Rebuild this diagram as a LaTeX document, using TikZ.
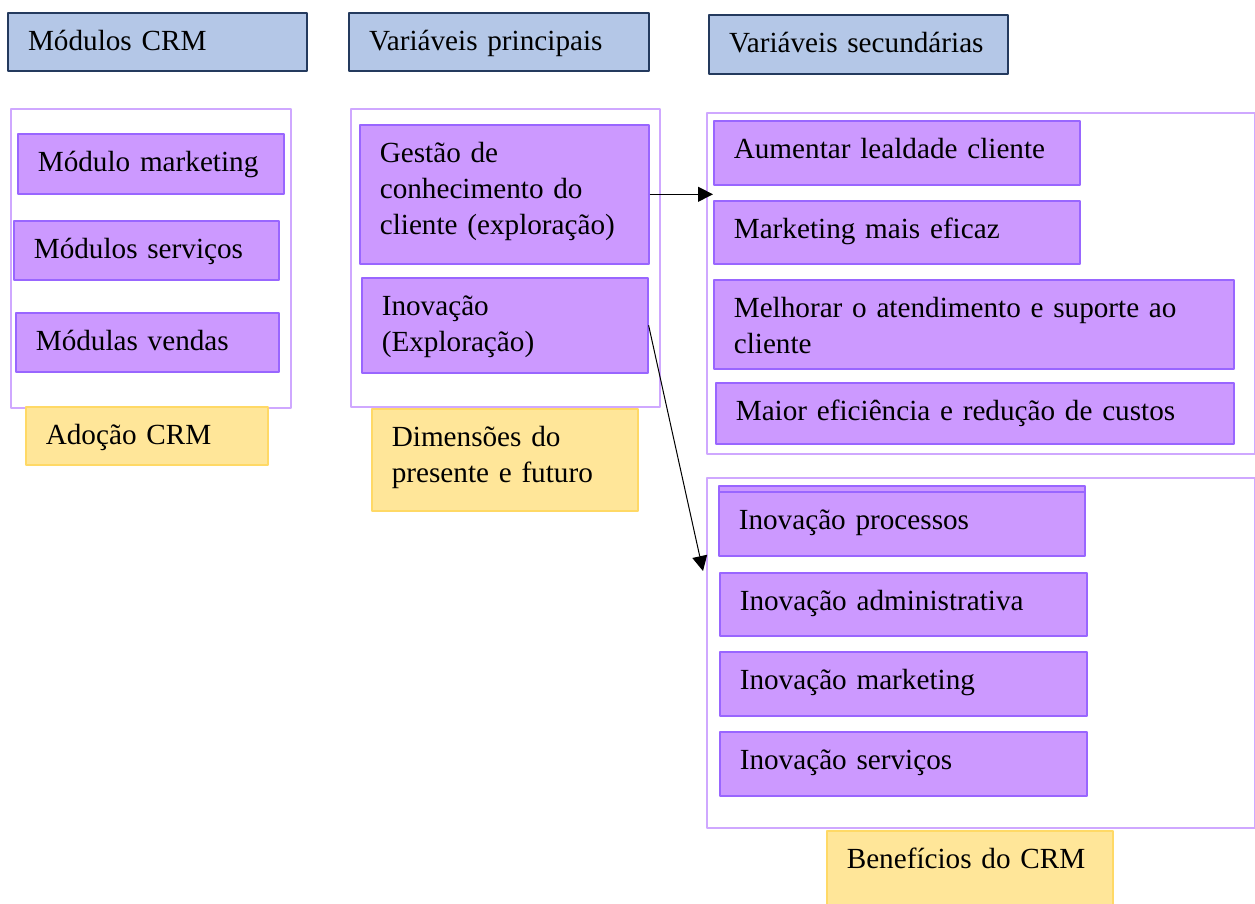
\documentclass[tikz,border=0pt]{standalone}
\usepackage{fontspec}
\setmainfont{Liberation Serif}
\usetikzlibrary{arrows.meta}
\definecolor{cabfundo}{HTML}{B4C7E7}
\definecolor{cablinha}{HTML}{243A5E}
\definecolor{itemfundo}{HTML}{CC99FF}
\definecolor{itemlinha}{HTML}{9966FF}
\definecolor{grupolinha}{HTML}{CFA8FF}
\definecolor{rotfundo}{HTML}{FFE699}
\definecolor{rotlinha}{HTML}{FFD966}
\newcommand{\fonte}{\fontsize{14.6}{18}\selectfont\spaceskip=2.9pt\relax}
\begin{document}
\begin{tikzpicture}[x=0.5pt, y=-0.5pt, line join=round, font=\fonte,
		caixa/.style 2 args={anchor=north west, inner xsep=10pt, inner ysep=0pt, align=left,
			text width=#1*0.5pt-20pt, text height=19pt, text depth=#2*0.5pt-19pt},
		grupo/.style 2 args={draw=grupolinha, fill=white, line width=0.9pt, anchor=north west,
			inner sep=0pt, minimum width=#1*0.5pt, minimum height=#2*0.5pt},
		cab/.style={draw=cablinha, fill=cabfundo, line width=1pt},
		item/.style={draw=itemlinha, fill=itemfundo, line width=0.8pt},
		rotulo/.style={draw=rotlinha, fill=rotfundo, line width=0.8pt},
		seta/.style={-{Triangle[length=7.5pt,width=7.5pt]}, line width=0.5pt}]
	\useasboundingbox (0,0) rectangle (1255,904);
	% cabeçalhos
	\node[cab, caixa={299}{58}] (hmod) at (7,12) {Módulos CRM};
	\node[cab, caixa={300}{58}] (hprin) at (348,12) {Variáveis principais};
	\node[cab, caixa={299}{59}] (hsec) at (708,14) {Variáveis secundárias};
	% grupos
	\node[grupo={280}{299}] (gmod) at (10,108) {};
	\node[grupo={309}{298}] (gprin) at (350,108) {};
	\node[grupo={548}{341}] (gsec) at (706,112) {};
	\node[grupo={548}{350}] (gben) at (706,477) {};
	% módulos CRM
	\node[item, caixa={266}{60}] (mmkt) at (17,133) {Módulo marketing};
	\node[item, caixa={265}{59}] (mserv) at (13,220) {Módulos serviços};
	\node[item, caixa={263}{59}] (mvend) at (15,312) {Módulas vendas};
	\node[rotulo, caixa={242}{58}] (tadop) at (25,406) {Adoção CRM};
	% variáveis principais
	\node[item, caixa={289}{139}] (gestao) at (359,124) {Gestão de\\conhecimento do\\cliente (exploração)};
	\node[item, caixa={286}{95}] (inov) at (361,277) {Inovação\\(Exploração)};
	\node[rotulo, caixa={266}{102}] (tdim) at (371,408) {Dimensões do\\presente e futuro};
	% variáveis secundárias
	\node[item, caixa={366}{64}] (aum) at (713,120) {Aumentar lealdade cliente};
	\node[item, caixa={366}{63}] (mkt) at (713,200) {Marketing mais eficaz};
	\node[item, caixa={520}{89}] (melh) at (713,279) {Melhorar o atendimento e suporte ao\\cliente};
	\node[item, caixa={518}{61}] (maior) at (715,382) {Maior eficiência e redução de custos};
	\draw[item] (719,486) rectangle (1085,555);
	\node[item, caixa={366}{64}] (iproc) at (718,491) {Inovação processos};
	\node[item, caixa={367}{63}] (iadm) at (719,572) {Inovação administrativa};
	\node[item, caixa={367}{64}] (imkt) at (719,651) {Inovação marketing};
	\node[item, caixa={367}{64}] (iserv) at (719,731) {Inovação serviços};
	\node[rotulo, caixa={286}{90}] (tben) at (826,830) {Benefícios do CRM};
	% setas
	\coordinate (pontab) at (703,571);
	\draw[seta] (gestao.east) -- (gestao.east -| aum.west);
	\draw[seta] (inov.east) -- (pontab);
\end{tikzpicture}
\end{document}
